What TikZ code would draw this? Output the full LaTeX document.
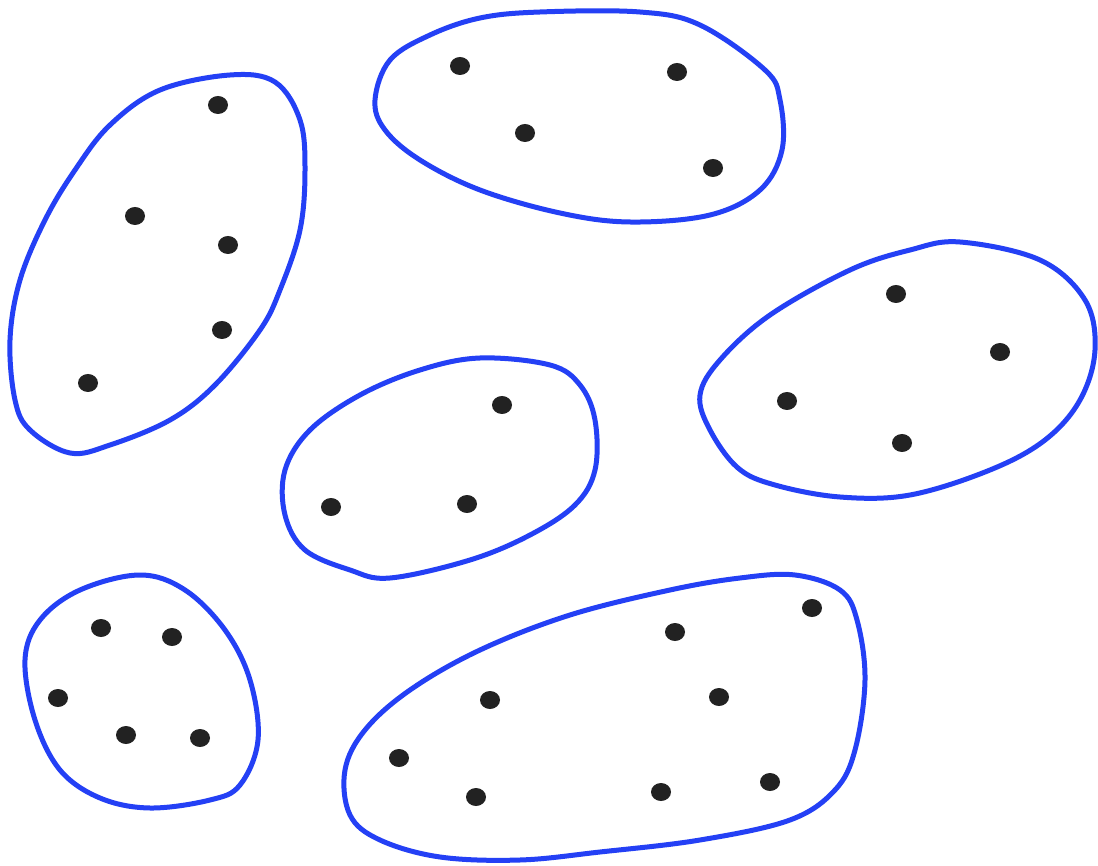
\documentclass[tikz,border=0pt]{standalone}
\usepackage{tikz}
\usetikzlibrary{calc}
\definecolor{clBlob}{HTML}{2440F5}
\definecolor{clDot}{HTML}{222222}
\tikzset{
  blob/.style={draw=clBlob, line width=5pt, line join=round},
  dot/.style={fill=clDot},
}

\begin{document}
\begin{tikzpicture}[x=1pt, y=-1pt]
  \useasboundingbox[fill=white] (0,0) rectangle (1098,866);
  % clusters
  \draw[blob] plot[smooth cycle, tension=0.6] coordinates {(230,75) (275,82) (300,120) (305,170) (300,230) (280,290) (260,330) (215,385) (170,420) (110,445) (70,453) (30,430) (15,400) (10,340) (20,280) (45,220) (75,170) (110,125) (160,90)};
  \draw[blob] plot[smooth cycle, tension=0.6] coordinates {(540,12) (640,12) (700,25) (765,70) (780,100) (782,150) (760,190) (710,215) (630,222) (560,213) (480,190) (420,160) (385,130) (375,100) (390,60) (430,35) (480,18)};
  \draw[blob] plot[smooth cycle, tension=0.6] coordinates {(960,242) (1040,260) (1085,300) (1095,350) (1080,400) (1045,440) (990,470) (910,495) (840,497) (775,485) (738,468) (710,430) (700,395) (720,360) (770,315) (850,270) (910,250)};
  \draw[blob] plot[smooth cycle, tension=0.6] coordinates {(480,358) (550,365) (580,385) (595,420) (595,470) (575,505) (530,535) (470,560) (390,578) (350,570) (305,550) (285,515) (285,470) (310,430) (360,395) (420,370)};
  \draw[blob] plot[smooth cycle, tension=0.6] coordinates {(140,575) (185,590) (225,630) (250,680) (258,740) (240,785) (210,800) (150,808) (100,798) (60,770) (35,720) (25,660) (40,620) (80,590)};
  \draw[blob] plot[smooth cycle, tension=0.6] coordinates {(795,575) (840,590) (857,620) (865,680) (855,750) (835,790) (790,820) (700,840) (600,852) (520,860) (440,857) (380,840) (350,815) (345,770) (365,730) (410,690) (480,650) (570,615) (670,590) (740,578)};
  % points
  \foreach \px/\py in {218/105, 135/216, 228/245, 222/330, 88/383,
                       460/66, 677/72, 525/133, 713/168,
                       896/294, 1000/352, 787/401, 902/443,
                       502/405, 331/507, 467/504,
                       101/628, 172/637, 58/698, 126/735, 200/738,
                       812/608, 675/632, 490/700, 719/697, 399/758, 476/797, 661/792, 770/782}
    \fill[dot] (\px,\py) ellipse (10 and 9);
\end{tikzpicture}
\end{document}
